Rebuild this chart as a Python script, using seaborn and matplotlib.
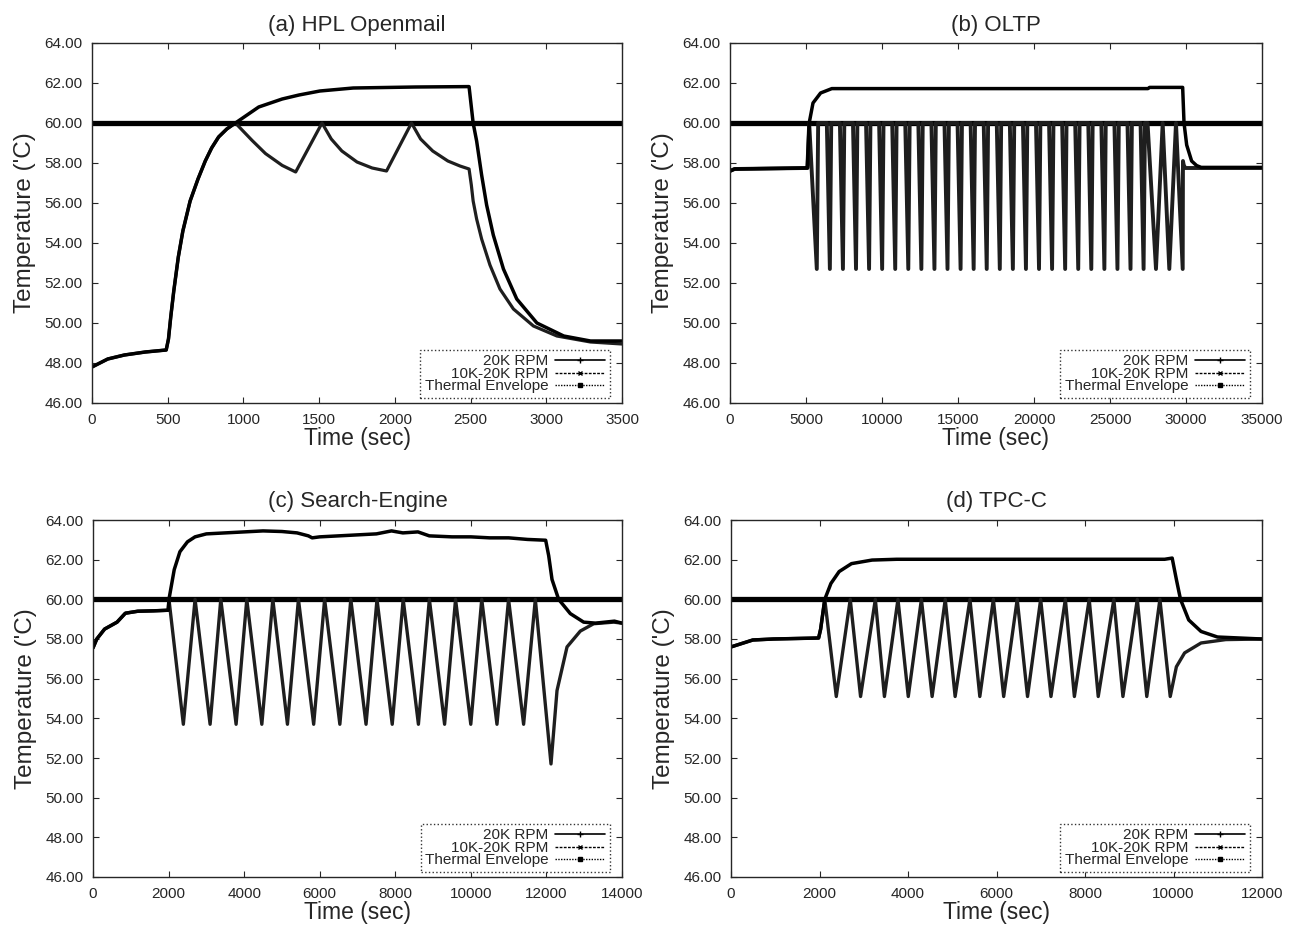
import numpy as np
import pandas as pd
import matplotlib
matplotlib.use('Agg')
import matplotlib.pyplot as plt
from matplotlib.lines import Line2D
import seaborn as sns

sns.set_style('ticks')
plt.rcParams['font.family'] = ['Liberation Sans', 'DejaVu Sans']

# (a) HPL Openmail
hpl_t20 = [0, 104, 214, 352, 490, 505, 520, 540, 570, 600, 648, 700, 748, 790, 836, 890, 947, 1101, 1256,
           1367, 1505, 1725, 2137, 2490, 2517, 2540, 2573, 2606, 2650, 2717, 2805, 2938, 3115, 3292, 3500]
hpl_v20 = [47.8, 48.2, 48.4, 48.55, 48.65, 49.2, 50.3, 51.6, 53.3, 54.6, 56.1, 57.2, 58.1, 58.75, 59.3, 59.7,
           60.0, 60.8, 61.2, 61.4, 61.6, 61.75, 61.8, 61.82, 60.0, 59.1, 57.4, 55.9, 54.4, 52.7, 51.2, 50.0,
           49.35, 49.1, 49.1]
hpl_tvar = [0, 104, 214, 352, 490, 505, 520, 540, 570, 600, 648, 700, 748, 790, 836, 890, 947, 1057, 1146,
            1256, 1345, 1519, 1580, 1650, 1750, 1850, 1945, 2110, 2170, 2250, 2350, 2430, 2490, 2505, 2517,
            2540, 2573, 2628, 2694, 2783, 2915, 3070, 3292, 3500]
hpl_vvar = [47.8, 48.2, 48.4, 48.55, 48.65, 49.2, 50.3, 51.6, 53.3, 54.6, 56.1, 57.2, 58.1, 58.75, 59.3, 59.7,
            60.0, 59.13, 58.47, 57.88, 57.55, 60.0, 59.2, 58.6, 58.05, 57.75, 57.6, 60.0, 59.2, 58.6, 58.1,
            57.85, 57.7, 56.9, 56.1, 55.2, 54.2, 52.9, 51.7, 50.7, 49.85, 49.35, 49.05, 48.95]

# (b) OLTP
oltp_t20 = [0, 300, 5000, 5090, 5210, 5460, 5960, 6700, 27500, 27600, 29780, 29870, 30045, 30370, 30700,
            31000, 35000]
oltp_v20 = [57.6, 57.7, 57.75, 57.75, 60.0, 61.0, 61.5, 61.72, 61.72, 61.78, 61.78, 60.0, 58.9, 58.1, 57.87,
            57.78, 57.78]
oltp_tooth_top = [5210, 6370, 7230, 8090, 8950, 9810, 10670, 11530, 12390, 13250, 14110, 14970, 15830,
                  16690, 17550, 18410, 19270, 20130, 20990, 21850, 22710, 23570, 24430, 25290, 26150, 27010]
oltp_tooth_bottom = [5710, 6570, 7430, 8290, 9150, 10010, 10870, 11730, 12590, 13450, 14310, 15170, 16030,
                     16890, 17750, 18610, 19470, 20330, 21190, 22050, 22910, 23770, 24630, 25490, 26350, 27210]
oltp_tooth_back = [5800, 6660, 7520, 8380, 9240, 10100, 10960, 11820, 12680, 13540, 14400, 15260, 16120,
                   16980, 17840, 18700, 19560, 20420, 21280, 22140, 23000, 23860, 24720, 25580, 26440, 27300]
oltp_v_tail_t = [27470, 28025, 28465, 28901, 29341, 29783, 29800, 29850, 29950, 35000]
oltp_v_tail_v = [60.0, 52.7, 60.0, 52.7, 60.0, 52.7, 58.1, 57.9, 57.75, 57.75]
oltp_low = 52.7

# (c) Search-Engine
se_t20 = [0, 100, 307, 637, 856, 1185, 1600, 1990, 2010, 2150, 2300, 2500, 2700, 3000, 3500, 4000, 4500,
          5000, 5400, 5700, 5800, 6000, 6500, 7000, 7500, 7900, 8200, 8600, 8900, 9500, 10000, 10500, 11000,
          11500, 11980, 12060, 12148, 12323, 12632, 12985, 13300, 13800, 14000]
se_v20 = [57.55, 58.0, 58.5, 58.85, 59.3, 59.4, 59.42, 59.45, 60.0, 61.5, 62.4, 62.9, 63.15, 63.3, 63.35,
          63.4, 63.45, 63.42, 63.35, 63.2, 63.1, 63.15, 63.2, 63.25, 63.3, 63.45, 63.35, 63.4, 63.2, 63.15,
          63.15, 63.1, 63.1, 63.02, 62.98, 62.2, 61.0, 60.0, 59.28, 58.85, 58.8, 58.9, 58.8]
se_trough = [2391, 3099, 3787, 4468, 5146, 5840, 6533, 7226, 7919, 8612, 9305, 9998, 10691, 11396]
se_peak = [2701, 3382, 4070, 4759, 5437, 6130, 6823, 7516, 8209, 8902, 9595, 10288, 10998, 11706]
se_low = 53.7
se_tail_t = [12121, 12280, 12545, 12897, 13250, 13779, 14000]
se_tail_v = [51.7, 55.4, 57.6, 58.4, 58.77, 58.85, 58.8]

# (d) TPC-C
tpcc_t20 = [0, 493, 957, 1980, 2026, 2119, 2258, 2444, 2723, 3188, 3745, 9800, 9970, 10065, 10158, 10344,
            10623, 10994, 12000]
tpcc_v20 = [57.6, 57.95, 58.0, 58.05, 58.5, 60.0, 60.8, 61.4, 61.8, 61.98, 62.02, 62.02, 62.08, 61.0, 60.0,
            58.96, 58.38, 58.1, 58.0]
tpcc_peak = [2119, 2695, 3262, 3773, 4303, 4842, 5400, 5929, 6468, 6998, 7556, 8095, 8652, 9182, 9693]
tpcc_trough = [2379, 2928, 3467, 4006, 4545, 5065, 5623, 6162, 6701, 7231, 7760, 8299, 8857, 9396, 9926]
tpcc_low = 55.1
tpcc_tail_t = [10065, 10251, 10623, 11180, 12000]
tpcc_tail_v = [56.6, 57.3, 57.8, 57.97, 58.0]

envelope = 60.0

# assemble the 10K-20K series
oltp_tvar, oltp_vvar = oltp_t20[:4], oltp_v20[:4]
for a, b, c in zip(oltp_tooth_top, oltp_tooth_bottom, oltp_tooth_back):
    oltp_tvar = oltp_tvar + [a, b, c]
    oltp_vvar = oltp_vvar + [envelope, oltp_low, envelope]
oltp_tvar = oltp_tvar + oltp_v_tail_t
oltp_vvar = oltp_vvar + oltp_v_tail_v

se_tvar, se_vvar = se_t20[:9], se_v20[:9]
for tr, pk in zip(se_trough, se_peak):
    se_tvar = se_tvar + [tr, pk]
    se_vvar = se_vvar + [se_low, envelope]
se_tvar = se_tvar + se_tail_t
se_vvar = se_vvar + se_tail_v

tpcc_tvar, tpcc_vvar = tpcc_t20[:6], tpcc_v20[:6]
for i, tr in enumerate(tpcc_trough):
    if i > 0:
        tpcc_tvar = tpcc_tvar + [tpcc_peak[i]]
        tpcc_vvar = tpcc_vvar + [envelope]
    tpcc_tvar = tpcc_tvar + [tr]
    tpcc_vvar = tpcc_vvar + [tpcc_low]
tpcc_tvar = tpcc_tvar + tpcc_tail_t
tpcc_vvar = tpcc_vvar + tpcc_tail_v

panels = [
    ('(a) HPL Openmail', hpl_t20, hpl_v20, hpl_tvar, hpl_vvar, 3500, 500, 2.3),
    ('(b) OLTP', oltp_t20, oltp_v20, oltp_tvar, oltp_vvar, 35000, 5000, 2.8),
    ('(c) Search-Engine', se_t20, se_v20, se_tvar, se_vvar, 14000, 2000, 2.4),
    ('(d) TPC-C', tpcc_t20, tpcc_v20, tpcc_tvar, tpcc_vvar, 12000, 2000, 2.4),
]

W, H = 1293, 925
fig = plt.figure(figsize=(W / 100, H / 100), dpi=100)
boxes = [(92, 43, 622, 403), (730, 43, 1262, 403), (93, 520, 622, 877), (731, 520, 1262, 877)]

for (title, t20, v20, tvar, vvar, xmax, xstep, lw_var), (l, t, r, b) in zip(panels, boxes):
    ax = fig.add_axes([l / W, 1 - b / H, (r - l) / W, (b - t) / H])
    sns.lineplot(x=[0, xmax], y=[envelope, envelope], ax=ax, color='black', lw=3.8, sort=False,
                 estimator=None)
    sns.lineplot(x=tvar, y=vvar, ax=ax, color='#1e1e1e', lw=lw_var, sort=False, estimator=None)
    sns.lineplot(x=t20, y=v20, ax=ax, color='black', lw=2.5, sort=False, estimator=None)
    ax.set_xlim(0, xmax)
    ax.set_ylim(46, 64)
    ax.set_xticks(np.arange(0, xmax + 1, xstep))
    ax.set_yticks(np.arange(46, 64.1, 2))
    ax.set_yticklabels(['%.2f' % v for v in np.arange(46, 64.1, 2)])
    ax.tick_params(direction='in', top=True, right=True, length=4, width=0.8, labelsize=11, pad=7)
    for s in ax.spines.values():
        s.set_linewidth(1.0)
    ax.set_title(title, fontsize=16, pad=9)
    ax.set_xlabel('Time (sec)', fontsize=16.5, labelpad=0)
    ax.set_ylabel("Temperature ('C)", fontsize=17.5, labelpad=6)
    handles = [
        Line2D([], [], color='black', lw=1.2, ls='-', marker='+', markersize=4),
        Line2D([], [], color='black', lw=1.0, ls=(0, (2, 1)), marker='x', markersize=3.5),
        Line2D([], [], color='black', lw=1.0, ls=(0, (1, 1)), marker='s', markersize=3),
    ]
    leg = ax.legend(handles, ['20K RPM', '10K-20K RPM', 'Thermal Envelope'], loc='lower right',
                    bbox_to_anchor=(0.977, 0.014), borderaxespad=0, markerfirst=False, fontsize=11,
                    frameon=True, fancybox=False, labelspacing=-0.1, handlelength=3.3, handletextpad=0.4,
                    borderpad=0.3)
    leg.get_frame().set_edgecolor('black')
    leg.get_frame().set_linestyle(':')
    leg.get_frame().set_linewidth(1.0)

fig.savefig('out.png', dpi=100)
